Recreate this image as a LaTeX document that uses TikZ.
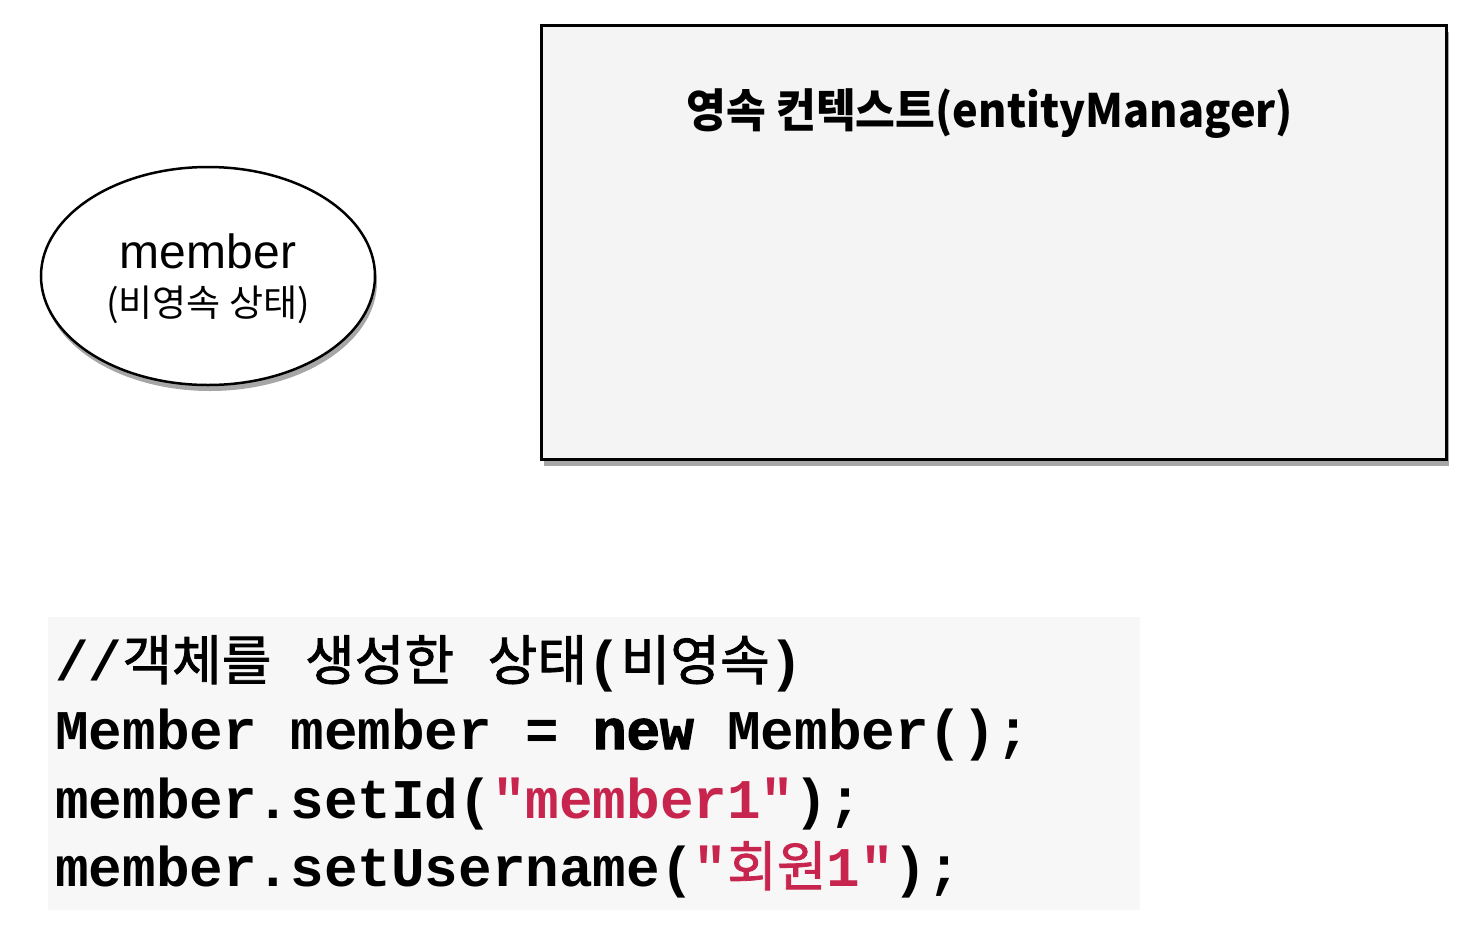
\documentclass[tikz,border=0pt]{standalone}
\usepackage{fontspec}
\usetikzlibrary{shadows,shapes.geometric}
\setmainfont{Liberation Sans}
\newfontfamily\kr{Noto Sans CJK KR}
\newfontfamily\krcode{Noto Sans CJK KR}[FakeBold=1.5]
\newfontfamily\code{Liberation Mono}
\newfontfamily\codeheavy{Liberation Mono}[BoldFeatures={FakeBold=2.5}]
\definecolor{boxgray}{HTML}{F4F4F4}
\definecolor{codebg}{HTML}{F7F7F7}
\definecolor{codered}{RGB}{199,37,78}
\newcommand{\kok}{\krcode\mdseries\fontsize{54}{60}\selectfont}
\tikzset{
  softshadow/.style={drop shadow={shadow xshift=2pt, shadow yshift=-6pt, opacity=0.35, fill=black}},
  codeline/.style={anchor=base west, inner sep=0pt, font=\code\bfseries\fontsize{56}{60}\selectfont},
}
\begin{document}
\begin{tikzpicture}[x=1pt,y=-1pt]
\useasboundingbox (0,0) rectangle (1472,932);
% member ellipse
\node[ellipse, draw, line width=2.5pt, fill=white, minimum width=334pt, minimum height=218pt, softshadow] (member) at (208,276) {};
\node[anchor=base, inner sep=0pt, font=\fontsize{48}{50}\selectfont] (mname) at (208,268) {member};
\node[anchor=base, inner sep=0pt, font=\kr\fontsize{37}{40}\selectfont] (mstate) at (208,316) {(비영속 상태)};
% persistence context box
\node[draw, line width=3pt, fill=boxgray, minimum width=905pt, minimum height=434pt, anchor=north west, softshadow] (pc) at (540,24) {};
\node[anchor=base, inner sep=0pt, xscale=0.94, transform shape, font=\kr\bfseries\fontsize{46}{50}\selectfont] (title) at (990,127) {영속 컨텍스트(entityManager)};
% code block
\node[fill=codebg, minimum width=1092pt, minimum height=293pt, anchor=north west, inner sep=0pt] (codebg) at (48,617) {};
\node[codeline] (l1) at (55,680) {//{\kok 객체를} {\kok 생성한} {\kok 상태}({\kok 비영속})};
\node[codeline] (l2) at (55,749) {Member member = {\codeheavy\bfseries new} Member();};
\node[codeline] (l3) at (55,818) {member.setId({\color{codered}"member1"});};
\node[codeline] (l4) at (55,886) {member.setUsername({\color{codered}"{\kok 회원}1"});};
\end{tikzpicture}
\end{document}
